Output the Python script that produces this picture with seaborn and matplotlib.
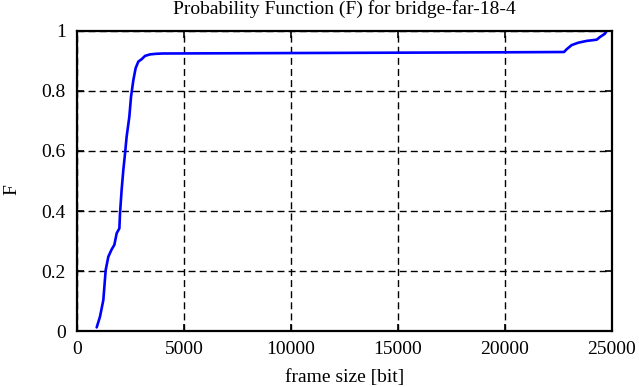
import numpy as np
import pandas as pd
import matplotlib
matplotlib.use('Agg')
import matplotlib.pyplot as plt
import seaborn as sns

# frame size [bit] and cumulative probability F
frame_size = [920, 1075, 1230, 1340, 1465, 1620, 1745, 1855, 1980, 2010, 2085,
              2165, 2245, 2320, 2445, 2525, 2635, 2740, 2865, 3020, 3180, 3410,
              3690, 4000, 8000, 12000, 16000, 20000, 22760, 22880, 23115, 23425,
              23820, 24285, 24440, 24670, 24750]
prob_F = [0.012, 0.048, 0.103, 0.203, 0.248, 0.272, 0.287, 0.326, 0.342, 0.392,
          0.47, 0.537, 0.592, 0.648, 0.714, 0.781, 0.837, 0.876, 0.898, 0.906,
          0.917, 0.922, 0.924, 0.925, 0.926, 0.927, 0.928, 0.929, 0.930, 0.939,
          0.953, 0.961, 0.967, 0.971, 0.98, 0.991, 1.0]

x_ticks = [0, 5000, 10000, 15000, 20000, 25000]
y_ticks = [0, 0.2, 0.4, 0.6, 0.8, 1]
y_ticklabels = ['0', '0.2', '0.4', '0.6', '0.8', '1']

df = pd.DataFrame({'frame size': frame_size, 'F': prob_F})

sns.set_style('ticks')
plt.rcParams['font.family'] = ['Liberation Serif', 'DejaVu Serif']
plt.rcParams['font.size'] = 14
plt.rcParams['text.color'] = 'black'
plt.rcParams['axes.labelcolor'] = 'black'

fig = plt.figure(figsize=(6.39, 3.87), dpi=100)
ax = fig.add_axes([0.1205, 0.1447, 0.8372, 0.7752])

sns.lineplot(data=df, x='frame size', y='F', color='#0000ff', linewidth=1.9,
             ax=ax, legend=False)

ax.set_xlim(0, 25000)
ax.set_ylim(0, 1)
ax.set_xticks(x_ticks)
ax.set_xticklabels([str(t) for t in x_ticks])
ax.set_yticks(y_ticks)
ax.set_yticklabels(y_ticklabels)
ax.grid(True, color='black', linestyle=(0, (5, 3)), linewidth=1.0)
ax.tick_params(direction='in', top=True, right=True, length=5, width=1.2,
               labelsize=14, colors='black', labelcolor='black')
ax.tick_params(axis='x', pad=7)
ax.tick_params(axis='y', pad=8)
for s in ax.spines.values():
    s.set_visible(True)
    s.set_linewidth(1.6)
    s.set_color('black')

ax.set_title('Probability Function (F) for bridge-far-18-4', fontsize=14, pad=12,
             color='black')
ax.set_xlabel('frame size [bit]', fontsize=14, labelpad=8, color='black')
ax.set_ylabel('F', fontsize=14, color='black')
ax.yaxis.set_label_coords(-0.1065, 0.473)

fig.savefig('out.png', dpi=100)
